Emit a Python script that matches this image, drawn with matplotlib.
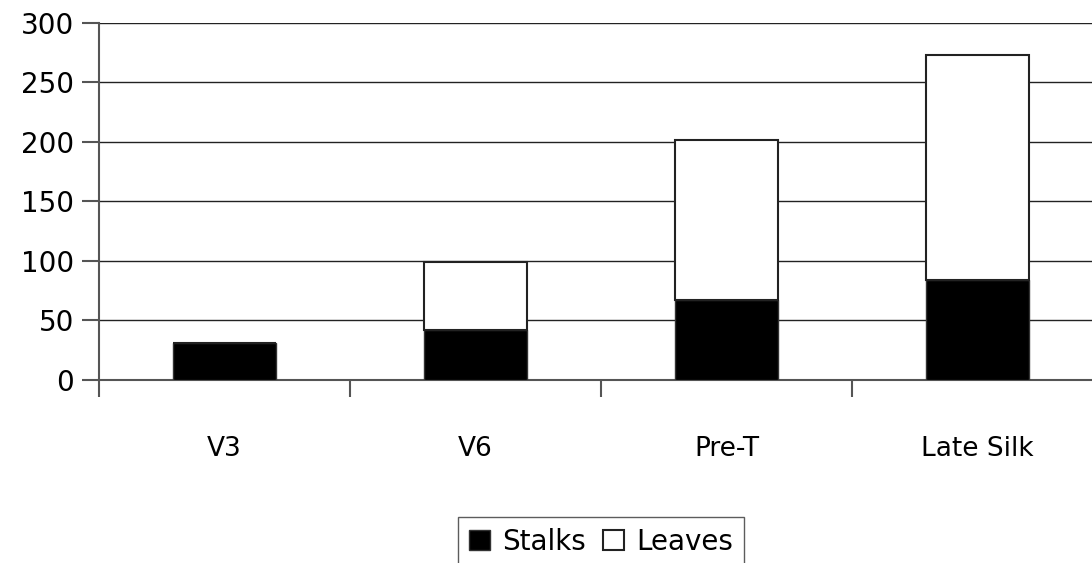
import matplotlib.pyplot as plt
import numpy as np

stages = ["V3", "V6", "Pre-T", "Late Silk"]
stalks = [31, 42, 67, 84]
leaves = [0, 57, 134, 189]

plt.rcParams['font.family'] = ['DejaVu Sans']

fig = plt.figure(figsize=(10.92, 5.63), dpi=100, facecolor='white')
# plot area runs a little past the right edge, as in the original
ax = fig.add_axes([99 / 1092, 1 - 380 / 563, 1004 / 1092, 357.5 / 563])

x = np.arange(len(stages))
width = 0.41
ax.bar(x, stalks, width, color='black', edgecolor='#333333', linewidth=1, label='Stalks', zorder=3)
ax.bar(x, leaves, width, bottom=stalks, color='white', edgecolor='#222222', linewidth=1.5,
       label='Leaves', zorder=3)

ax.set_xlim(-0.5, 3.5)
ax.set_ylim(0, 300)
ax.set_yticks(np.arange(0, 301, 50))
ax.yaxis.grid(True, color='#222222', linewidth=1)
ax.set_axisbelow(True)

# boundaries as major ticks, names as minor ticks
ax.set_xticks([-0.5, 0.5, 1.5, 2.5, 3.5])
ax.set_xticklabels([])
ax.set_xticks(x, minor=True)
ax.set_xticklabels(stages, minor=True)
ax.tick_params(axis='x', which='minor', length=0, pad=40, labelsize=19)
ax.tick_params(axis='x', which='major', length=12, width=1.5, color='#555555')
ax.tick_params(axis='y', length=12, width=1.5, color='#555555', labelsize=20, pad=6)

for side in ['top', 'right']:
    ax.spines[side].set_visible(False)
for side in ['left', 'bottom']:
    ax.spines[side].set_color('#555555')
    ax.spines[side].set_linewidth(1.5)

leg = fig.legend(loc='upper center', bbox_to_anchor=(601 / 1092, 1 - 503 / 563), ncol=2,
                 fontsize=20, frameon=True, fancybox=False, edgecolor='#333333',
                 handlelength=0.75, handleheight=0.75, handletextpad=0.45, columnspacing=0.6,
                 borderpad=0.4)
leg.get_frame().set_linewidth(1)

fig.savefig('out.png', dpi=100, facecolor='white')
